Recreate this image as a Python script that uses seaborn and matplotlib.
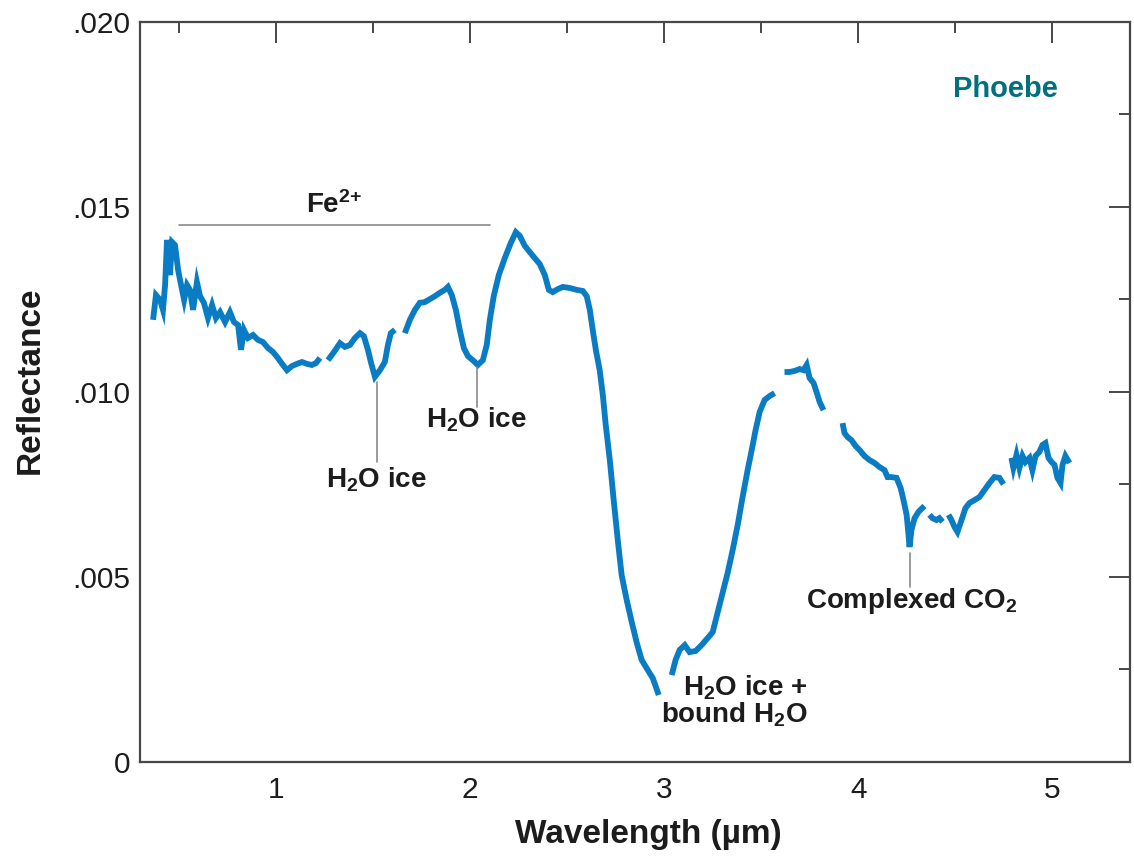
import numpy as np
import pandas as pd
import matplotlib
matplotlib.use("Agg")
import matplotlib.pyplot as plt
import seaborn as sns
from matplotlib.ticker import MultipleLocator, FuncFormatter

sns.set_theme(style="white")
plt.rcParams["font.family"] = ["Liberation Sans", "DejaVu Sans"]
plt.rcParams["mathtext.default"] = "regular"

# Phoebe reflectance spectrum (wavelength in micrometres)
wavelength = [
    0.367, 0.382, 0.403, 0.418, 0.429, 0.439, 0.454, 0.465, 0.480, 0.496,
    0.506, 0.527, 0.542, 0.557, 0.573, 0.593, 0.609, 0.629, 0.650, 0.671,
    0.691, 0.712, 0.738, 0.763, 0.784, 0.805, 0.820, 0.835, 0.856, 0.882,
    0.907, 0.933, 0.959, 0.985, 1.010, 1.036, 1.057, 1.082, 1.108, 1.134,
    1.160, 1.185, 1.206, 1.227,
    1.268, 1.299, 1.330, 1.355, 1.381, 1.407, 1.433, 1.453, 1.474, 1.489,
    1.510, 1.536, 1.561, 1.577, 1.592, 1.613,
    1.664, 1.690, 1.716, 1.741, 1.767, 1.793, 1.819, 1.844, 1.870, 1.886,
    1.906, 1.927, 1.947, 1.968, 1.989, 2.014, 2.040, 2.066, 2.086, 2.102,
    2.122, 2.148, 2.179, 2.210, 2.236, 2.256, 2.282, 2.308, 2.333, 2.359,
    2.385, 2.406, 2.426, 2.452, 2.478, 2.514, 2.550, 2.581, 2.601, 2.617,
    2.632, 2.648, 2.668, 2.684, 2.699, 2.720, 2.740, 2.761, 2.781, 2.807,
    2.833, 2.859, 2.884, 2.915, 2.941, 2.956, 2.972,
    3.039, 3.059, 3.080, 3.106, 3.131, 3.162, 3.193, 3.224, 3.250, 3.276,
    3.301, 3.327, 3.353, 3.379, 3.404, 3.430, 3.451, 3.471, 3.492, 3.517,
    3.543, 3.569,
    3.620, 3.646, 3.672, 3.698, 3.718, 3.734, 3.749, 3.770, 3.785, 3.801,
    3.821,
    3.919, 3.929, 3.945, 3.965, 3.986, 4.007, 4.032, 4.058, 4.084, 4.110,
    4.135, 4.151, 4.171, 4.197, 4.218, 4.233, 4.249, 4.259, 4.264, 4.274,
    4.290, 4.310, 4.341,
    4.367, 4.382, 4.403, 4.418, 4.434,
    4.465, 4.480, 4.496, 4.511, 4.532, 4.552, 4.573, 4.599, 4.624, 4.650,
    4.676, 4.701, 4.727, 4.748,
    4.789, 4.799, 4.815, 4.830, 4.846, 4.861, 4.882, 4.897, 4.913, 4.933,
    4.949, 4.964, 4.980, 4.995, 5.011, 5.026, 5.042, 5.052, 5.067, 5.088,
]
reflectance = [
    0.01195, 0.01262, 0.01249, 0.01222, 0.01289, 0.01411, 0.01316, 0.01405, 0.01397, 0.01330,
    0.01303, 0.01249, 0.01289, 0.01276, 0.01222, 0.01297, 0.01259, 0.01241, 0.01200, 0.01235,
    0.01200, 0.01216, 0.01189, 0.01216, 0.01189, 0.01181, 0.01114, 0.01168, 0.01146, 0.01154,
    0.01141, 0.01135, 0.01119, 0.01108, 0.01092, 0.01073, 0.01059, 0.01070, 0.01076, 0.01081,
    0.01076, 0.01073, 0.01078, 0.01092,
    0.01086, 0.01108, 0.01132, 0.01122, 0.01127, 0.01146, 0.01159, 0.01151, 0.01114, 0.01081,
    0.01041, 0.01059, 0.01081, 0.01127, 0.01159, 0.01168,
    0.01159, 0.01195, 0.01222, 0.01241, 0.01243, 0.01251, 0.01259, 0.01268, 0.01276, 0.01284,
    0.01262, 0.01222, 0.01168, 0.01119, 0.01097, 0.01086, 0.01073, 0.01086, 0.01127, 0.01195,
    0.01259, 0.01316, 0.01362, 0.01403, 0.01432, 0.01422, 0.01395, 0.01378, 0.01362, 0.01346,
    0.01316, 0.01276, 0.01270, 0.01278, 0.01284, 0.01281, 0.01276, 0.01273, 0.01259, 0.01222,
    0.01168, 0.01114, 0.01059, 0.00992, 0.00911, 0.00816, 0.00708, 0.00600, 0.00505, 0.00438,
    0.00378, 0.00322, 0.00276, 0.00249, 0.00227, 0.00205, 0.00181,
    0.00235, 0.00276, 0.00303, 0.00316, 0.00297, 0.00300, 0.00316, 0.00335, 0.00351, 0.00405,
    0.00457, 0.00511, 0.00573, 0.00641, 0.00716, 0.00789, 0.00843, 0.00897, 0.00946, 0.00978,
    0.00989, 0.00997,
    0.01054, 0.01054, 0.01057, 0.01062, 0.01059, 0.01073, 0.01038, 0.01024, 0.01000, 0.00973,
    0.00951,
    0.00916, 0.00889, 0.00878, 0.00870, 0.00854, 0.00843, 0.00827, 0.00816, 0.00808, 0.00797,
    0.00789, 0.00770, 0.00770, 0.00768, 0.00741, 0.00708, 0.00668, 0.00614, 0.00581, 0.00627,
    0.00659, 0.00676, 0.00692,
    0.00668, 0.00659, 0.00654, 0.00659, 0.00649,
    0.00668, 0.00654, 0.00635, 0.00622, 0.00654, 0.00686, 0.00700, 0.00708, 0.00716, 0.00735,
    0.00754, 0.00770, 0.00768, 0.00751,
    0.00822, 0.00795, 0.00830, 0.00795, 0.00827, 0.00811, 0.00822, 0.00789, 0.00827, 0.00838,
    0.00857, 0.00862, 0.00822, 0.00811, 0.00803, 0.00768, 0.00754, 0.00803, 0.00827, 0.00808,
]
# wavelengths where the record has no data (breaks between plotted pieces)
gap_starts = [1.24, 1.63, 2.99, 3.59, 3.85, 4.35, 4.45, 4.77]

LINE_BLUE = "#0a7cc4"
LEADER_GREY = "#8a8a8a"
AXIS_GREY = "#474747"
TEAL = "#00707f"

df = pd.DataFrame({"wavelength": wavelength, "reflectance": reflectance})
df["piece"] = np.searchsorted(gap_starts, df["wavelength"])

fig = plt.figure(figsize=(11.34, 8.66), dpi=100)
ax = fig.add_axes([0.1235, 0.1201, 0.8730, 0.8545])

sns.lineplot(data=df, x="wavelength", y="reflectance", units="piece",
             estimator=None, sort=False, color=LINE_BLUE, linewidth=4.2,
             solid_capstyle="butt", solid_joinstyle="miter", ax=ax, legend=False)

ax.set_xlim(0.3, 5.4)
ax.set_ylim(0, 0.020)

ax.xaxis.set_major_locator(MultipleLocator(1))
ax.xaxis.set_minor_locator(MultipleLocator(0.5))
ax.yaxis.set_major_locator(MultipleLocator(0.005))
ax.yaxis.set_minor_locator(MultipleLocator(0.0025))
ax.xaxis.set_major_formatter(FuncFormatter(lambda v, p: f"{v:g}"))
ax.yaxis.set_major_formatter(
    FuncFormatter(lambda v, p: "0" if abs(v) < 1e-9 else f"{v:.3f}".lstrip("0")))

ax.tick_params(which="both", direction="in", top=True, right=True,
               color=AXIS_GREY, width=1.4, labelcolor="#1c1c1c", labelsize=21.5)
ax.tick_params(which="major", length=15)
ax.tick_params(which="minor", length=8)
ax.tick_params(axis="x", which="major", pad=10)
ax.tick_params(axis="y", which="major", pad=7)

for side in ax.spines.values():
    side.set_visible(True)
    side.set_color(AXIS_GREY)
    side.set_linewidth(1.6)

ax.set_xlabel("Wavelength (µm)", fontsize=24, fontweight="bold", color="#1c1c1c",
              va="center")
ax.set_ylabel("Reflectance", fontsize=24, fontweight="bold", color="#1c1c1c",
              va="center")
ax.xaxis.set_label_coords(0.513, -0.0986)
ax.yaxis.set_label_coords(-0.111, 0.516)

label_kw = dict(fontsize=20, fontweight="bold", color="#1c1c1c")

# Fe2+ absorption region
ax.plot([0.50, 2.105], [0.01451, 0.01451], color=LEADER_GREY, linewidth=1.2)
ax.text(1.30, 0.01484, "Fe$^{2{+}}$", ha="center", va="baseline", **label_kw)

# 1.5 micron water-ice band
ax.plot([1.52, 1.52], [0.01027, 0.00811], color=LEADER_GREY, linewidth=1.2)
ax.text(1.52, 0.00741, "H$_2$O ice", ha="center", va="baseline", **label_kw)

# 2.0 micron water-ice band
ax.plot([2.035, 2.035], [0.01068, 0.00959], color=LEADER_GREY, linewidth=1.2)
ax.text(2.035, 0.00903, "H$_2$O ice", ha="center", va="baseline", **label_kw)

# 3 micron band
ax.text(3.739, 0.00181, "H$_2$O ice +", ha="right", va="baseline", **label_kw)
ax.text(3.739, 0.00108, "bound H$_2$O", ha="right", va="baseline", **label_kw)

# 4.26 micron CO2 feature
ax.plot([4.264, 4.264], [0.00565, 0.00473], color=LEADER_GREY, linewidth=1.2)
ax.text(4.274, 0.00416, "Complexed CO$_2$", ha="center", va="baseline", **label_kw)

ax.text(4.758, 0.01797, "Phoebe", ha="center", va="baseline",
        fontsize=21, fontweight="bold", color=TEAL)

fig.savefig("out.png", dpi=100, facecolor="white")
